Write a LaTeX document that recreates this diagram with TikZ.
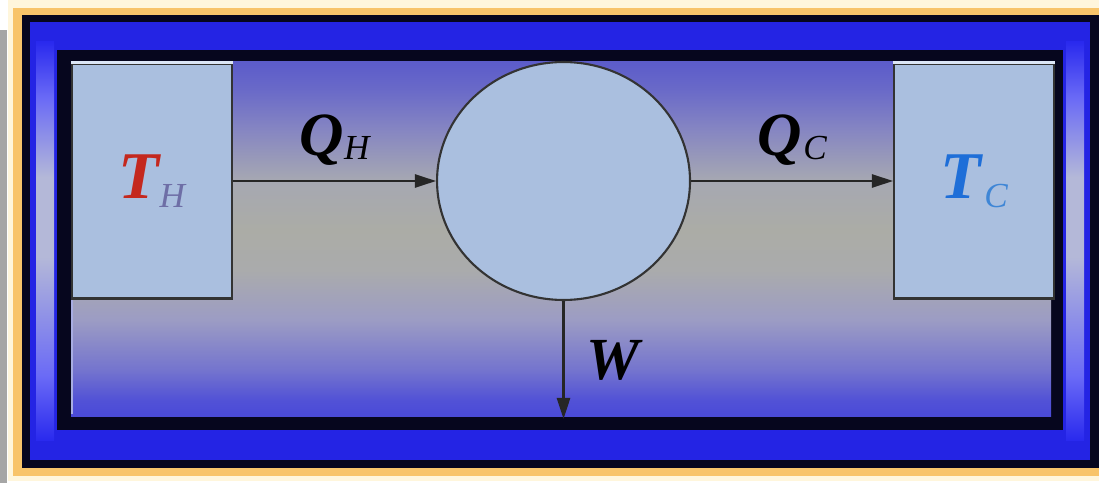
\documentclass[tikz,border=0pt]{standalone}
\usepackage{fontspec}
\setmainfont{Liberation Serif}
\usepackage{xcolor}
\usetikzlibrary{arrows.meta,positioning,shapes.geometric}

\definecolor{rimcream}{HTML}{FFF6DC}
\definecolor{rimorange}{HTML}{F8C46A}
\definecolor{framenavy}{HTML}{06061E}
\definecolor{frameblue}{HTML}{2424E4}
\definecolor{boxfill}{HTML}{AABFDF}
\definecolor{boxshine}{HTML}{DCE6F6}
\definecolor{hotred}{HTML}{C4281E}
\definecolor{coldblue}{HTML}{1E6ED8}
\definecolor{subgray}{HTML}{6E6EA6}
\definecolor{subblue}{HTML}{3F86D6}
% panel gradient stops, bottom to top
\definecolor{pnla}{HTML}{4A4AD8}
\definecolor{pnlb}{HTML}{5252D6}
\definecolor{pnlc}{HTML}{7474CE}
\definecolor{pnld}{HTML}{9C9CC4}
\definecolor{pnle}{HTML}{AAABAC}
\definecolor{pnlf}{HTML}{ABACA6}
\definecolor{pnlg}{HTML}{A6A8B2}
\definecolor{pnlh}{HTML}{8686C2}
\definecolor{pnli}{HTML}{6A6AC8}
\definecolor{pnlj}{HTML}{5C5CCA}
\pgfdeclareverticalshading{panelshade}{100bp}{color(0bp)=(pnla); color(25bp)=(pnla);
  color(27.3bp)=(pnlb); color(31.5bp)=(pnlc); color(38.6bp)=(pnld); color(45.6bp)=(pnle);
  color(51.3bp)=(pnlf); color(58.3bp)=(pnlg); color(65.4bp)=(pnlh); color(71bp)=(pnli);
  color(75bp)=(pnlj); color(100bp)=(pnlj)}
% side bevels: blue at the ends, pale in the middle
\definecolor{bvla}{HTML}{2A2AEE}
\definecolor{bvlb}{HTML}{6A6AF6}
\definecolor{bvlc}{HTML}{B4B8D8}
\pgfdeclareverticalshading{bevelshade}{100bp}{color(0bp)=(bvla); color(25bp)=(bvla);
  color(33bp)=(bvlb); color(48bp)=(bvlc); color(58bp)=(bvlc); color(68bp)=(bvlb);
  color(75bp)=(bvla); color(100bp)=(bvla)}

\newcommand{\subidx}[2][5pt]{\raisebox{-#1}{\fontsize{20}{20}\selectfont\mdseries\itshape #2}}

\begin{document}
\begin{tikzpicture}[x=0.02cm, y=-0.02cm,
reservoir/.style={draw=black!80, line width=1.2pt, fill=boxfill, minimum width=3.2cm, minimum height=4.7cm, inner sep=0pt, font=\fontsize{38}{38}\selectfont\bfseries\itshape},
engine/.style={draw=black!80, line width=1.2pt, fill=boxfill, ellipse, minimum width=5.06cm, minimum height=4.76cm, inner sep=0pt},
flow/.style={-{Triangle[length=12pt, width=7.5pt]}, line width=1.2pt, black!85},
heatlabel/.style={inner sep=0pt, text=black, font=\fontsize{35}{35}\selectfont\bfseries\itshape},
shine/.style={boxshine, line width=1.2pt}
]
\path[use as bounding box, clip] (0,0) rectangle (1099,483);
% frame
\fill[white] (0,0) rectangle (1099,483);
\fill[black!35] (0,30) rectangle (7,483);
\fill[rimcream] (8,0) rectangle (1110,481);
\fill[rimorange] (13,8) rectangle (1110,476);
\fill[framenavy] (22,15) rectangle (1110,468);
\fill[frameblue] (30,22) rectangle (1090,460);
\shade[shading=bevelshade] (36,42) rectangle (54,440);
\shade[shading=bevelshade] (1066,42) rectangle (1084,440);
\fill[framenavy] (57,50) rectangle (1063,430);
\shade[shading=panelshade] (71,62) rectangle (1051,416);
\draw[boxshine!50!pnlc, line width=0.8pt] (72,300) -- (72,414);

% reservoirs and engine
\node[reservoir] (hot) at (152,181) {{\color{hotred}T}{\color{subgray}\subidx{H}}};
\node[engine, right=4.06cm of hot] (eng) {};
\node[reservoir, right=4.04cm of eng] (cold) {{\color{coldblue}T}\kern2pt{\color{subblue}\subidx{C}}};
\coordinate[below=2.36cm of eng.south] (wout);
\draw[shine] (hot.north west) -- (hot.north east);
\draw[shine] (cold.north west) -- (cold.north east);

\draw[flow] (hot.east) -- (eng.west) node[midway, above=8pt, heatlabel] {Q\subidx[2pt]{H}};
\draw[flow] (eng.east) -- (cold.west) node[midway, above=8pt, heatlabel] {Q\kern1pt\subidx[2pt]{C}};
\draw[flow] (eng.south) -- (wout) node[midway, right=0.44cm, heatlabel, font=\fontsize{34}{34}\selectfont\bfseries\itshape] {W};
\end{tikzpicture}
\end{document}
